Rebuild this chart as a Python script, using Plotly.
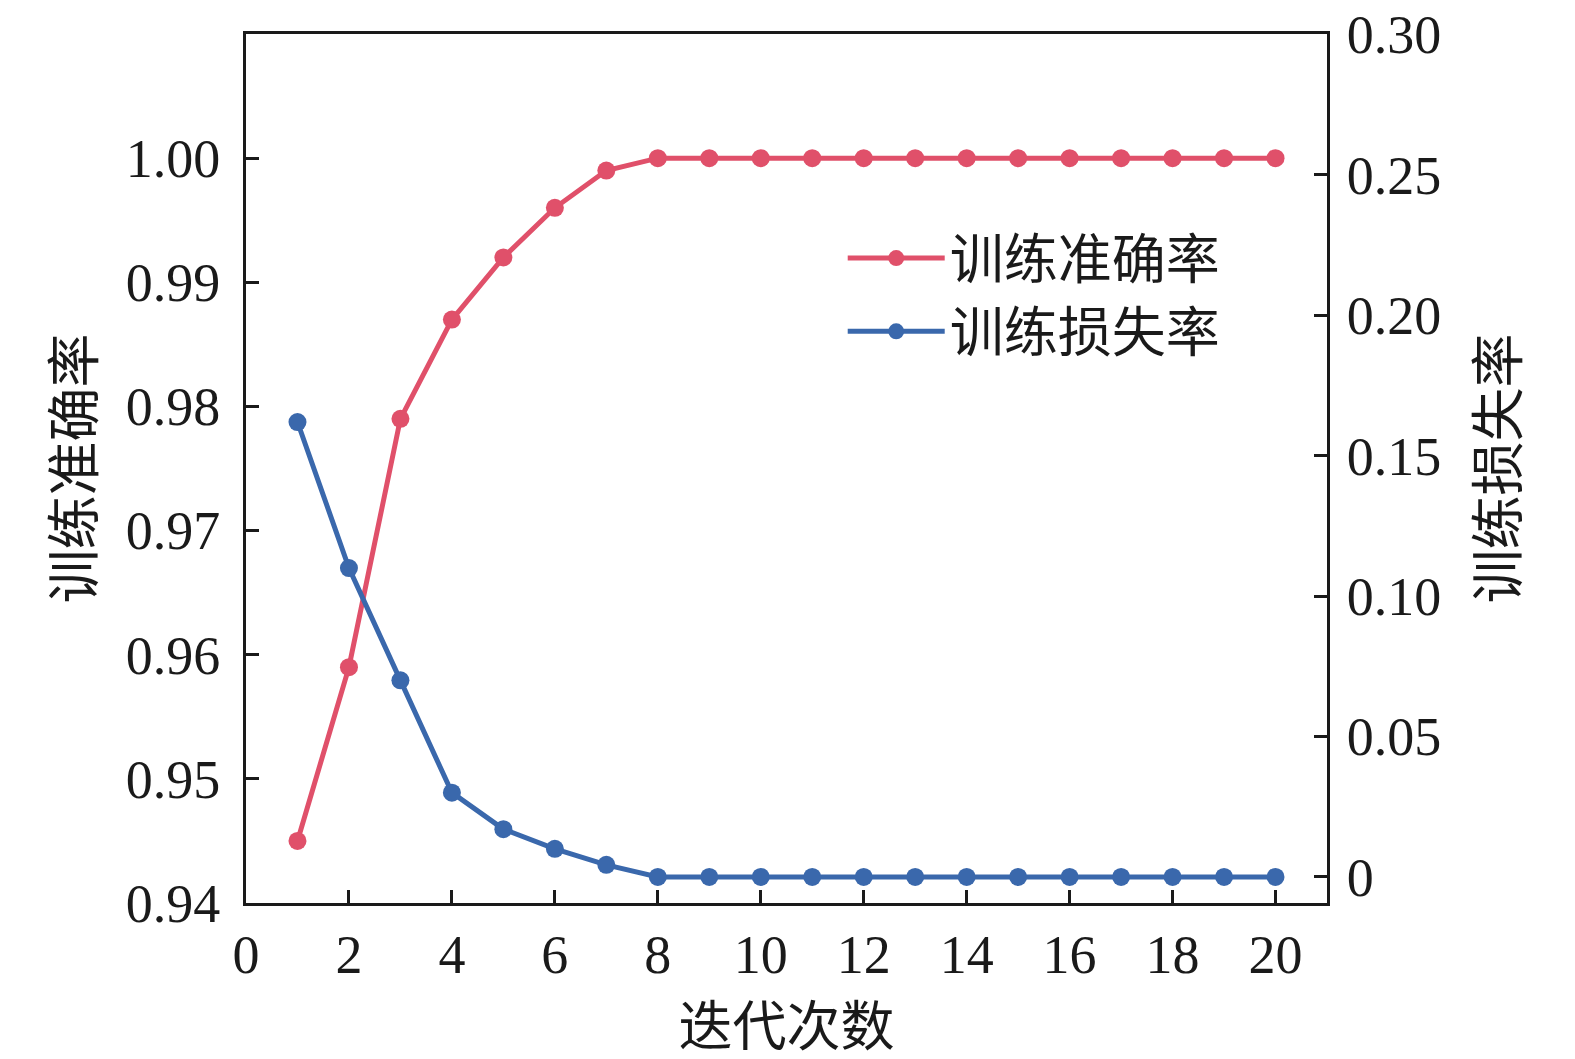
import plotly.graph_objects as go

# 迭代次数
epochs = list(range(1, 21))

# 训练准确率 (left axis)
train_acc = [0.945, 0.959, 0.979, 0.987, 0.992, 0.996, 0.999, 1.000, 1.000, 1.000,
             1.000, 1.000, 1.000, 1.000, 1.000, 1.000, 1.000, 1.000, 1.000, 1.000]

# 训练损失率 (right axis)
train_loss = [0.162, 0.110, 0.070, 0.030, 0.017, 0.010, 0.0043, 0.0, 0.0, 0.0,
              0.0, 0.0, 0.0, 0.0, 0.0, 0.0, 0.0, 0.0, 0.0, 0.0]

left_ticks = [0.94, 0.95, 0.96, 0.97, 0.98, 0.99, 1.00]
right_ticks = [0, 0.05, 0.10, 0.15, 0.20, 0.25, 0.30]
right_labels = ["0", "0.05", "0.10", "0.15", "0.20", "0.25", "0.30"]

red = "#E0506A"
blue = "#3A68AC"
font = "Liberation Serif, Times New Roman, Noto Sans CJK SC"

fig = go.Figure()
fig.add_trace(go.Scatter(
    x=epochs, y=train_acc, name="训练准确率", mode="lines+markers",
    line=dict(color=red, width=5), marker=dict(color=red, size=18),
    yaxis="y"))
fig.add_trace(go.Scatter(
    x=epochs, y=train_loss, name="训练损失率", mode="lines+markers",
    line=dict(color=blue, width=5), marker=dict(color=blue, size=18),
    yaxis="y2"))

axis_common = dict(showline=True, linecolor="#1a1a1a", linewidth=3,
                   ticks="inside", ticklen=13, tickwidth=3, tickcolor="#1a1a1a",
                   showgrid=False, zeroline=False, automargin=False,
                   ticklabeloverflow="allow",
                   tickfont=dict(family=font, size=54, color="#1a1a1a"))

fig.update_layout(
    width=1575, height=1059,
    margin=dict(l=238, r=256, t=26, b=164, autoexpand=False),
    plot_bgcolor="white", paper_bgcolor="white",
    font=dict(family=font, color="#1a1a1a"),
    showlegend=True,
    legend=dict(x=0.552, y=0.79, xanchor="left", yanchor="top",
                bgcolor="rgba(0,0,0,0)", tracegroupgap=0,
                font=dict(family=font, size=54, color="#1a1a1a"),
                itemwidth=97),
    xaxis=dict(range=[0, 21], tickmode="array", tickvals=list(range(0, 21, 2)),
               mirror=True, ticklabelstandoff=2,
               title=dict(text="迭代次数", font=dict(family=font, size=54), standoff=25),
               **axis_common),
    yaxis=dict(range=[0.94, 1.01], tickmode="array", tickvals=left_ticks,
               tickformat=".2f", ticklabelstandoff=12,
               title=dict(text="训练准确率", font=dict(family=font, size=54), standoff=14),
               **axis_common),
    yaxis2=dict(range=[-0.0093, 0.3002], overlaying="y", side="right",
                tickmode="array", tickvals=right_ticks, ticktext=right_labels,
                ticklabelstandoff=6,
                title=dict(text="训练损失率", font=dict(family=font, size=54), standoff=40),
                **axis_common),
)

fig.write_html("out.html")
